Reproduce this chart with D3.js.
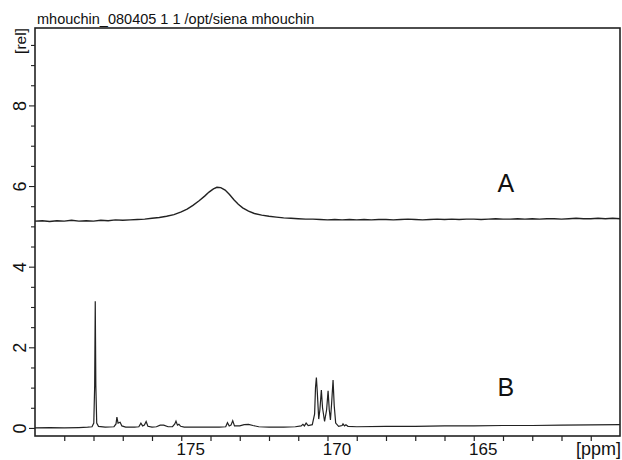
<!DOCTYPE html>
<html>
<head>
<meta charset="utf-8">
<script src="https://cdn.jsdelivr.net/npm/d3@7"></script>
<style>
  html, body { margin: 0; padding: 0; background: #fff; }
  svg { display: block; font-family: "Liberation Sans", Arial, sans-serif; }
</style>
</head>
<body>
<svg id="chart" width="622" height="460"></svg>
<script>
// ---- data ----
const titleText = "mhouchin_080405 1 1 /opt/siena mhouchin";
const xTickValues = [175, 170, 165];
const yTickValues = [0, 2, 4, 6, 8];
const seriesLabels = ["A", "B"];

// Spectrum A (broad line, offset upward)
const ppmA = [180.0, 179.75, 179.5, 179.25, 179.0, 178.75, 178.5, 178.25, 178.0, 177.75,
  177.5, 177.25, 177.0, 176.75, 176.5, 176.25, 176.0, 175.75, 175.5, 175.25,
  175.0, 174.8, 174.6, 174.4, 174.2, 174.05, 173.9, 173.78, 173.65, 173.5,
  173.35, 173.2, 173.05, 172.9, 172.7, 172.5, 172.25, 172.0, 171.75, 171.5,
  171.25, 171.0, 170.75, 170.5, 170.25, 170.0, 169.75, 169.5, 169.25, 169.0,
  168.75, 168.5, 168.25, 168.0, 167.75, 167.5, 167.25, 167.0, 166.75, 166.5,
  166.25, 166.0, 165.75, 165.5, 165.25, 165.0, 164.75, 164.5, 164.25, 164.0,
  163.75, 163.5, 163.25, 163.0, 162.75, 162.5, 162.25, 162.0, 161.75, 161.5,
  161.25, 161.0, 160.75, 160.5, 160.25, 160.0];
const relA = [5.13, 5.14, 5.12, 5.14, 5.13, 5.15, 5.13, 5.14, 5.13, 5.15,
  5.14, 5.16, 5.15, 5.16, 5.17, 5.18, 5.20, 5.22, 5.25, 5.29,
  5.36, 5.43, 5.52, 5.63, 5.75, 5.85, 5.93, 5.97, 5.96, 5.90,
  5.79, 5.66, 5.55, 5.46, 5.38, 5.32, 5.28, 5.25, 5.23, 5.21,
  5.20, 5.19, 5.18, 5.18, 5.17, 5.16, 5.17, 5.16, 5.17, 5.16,
  5.17, 5.16, 5.17, 5.17, 5.16, 5.17, 5.18, 5.17, 5.16, 5.17,
  5.18, 5.17, 5.18, 5.17, 5.18, 5.18, 5.17, 5.18, 5.19, 5.18,
  5.18, 5.19, 5.18, 5.19, 5.18, 5.19, 5.19, 5.18, 5.19, 5.20,
  5.19, 5.19, 5.20, 5.19, 5.20, 5.19];

// Spectrum B (resolved lines)
const ppmB = [180.0, 179.5, 179.0, 178.5, 178.2, 178.05, 177.99, 177.96, 177.94, 177.92,
  177.89, 177.83, 177.6, 177.30, 177.23, 177.20, 177.16, 177.09, 177.03, 176.9,
  176.6, 176.45, 176.38, 176.32, 176.26, 176.20, 176.14, 176.0, 175.85, 175.72,
  175.60, 175.45, 175.30, 175.22, 175.18, 175.13, 175.08, 175.02, 174.9, 174.5,
  174.0, 173.7, 173.48, 173.42, 173.36, 173.30, 173.24, 173.18, 173.0, 172.85,
  172.70, 172.55, 172.35, 172.0, 171.5, 171.1, 170.9, 170.84, 170.79, 170.73,
  170.66, 170.52, 170.44, 170.41, 170.38, 170.35, 170.30, 170.26, 170.21, 170.17,
  170.10, 170.03, 169.98, 169.94, 169.90, 169.86, 169.81, 169.77, 169.72, 169.62,
  169.50, 169.47, 169.42, 169.37, 169.30, 169.0, 168.0, 167.0, 166.0, 165.0,
  164.0, 163.0, 162.0, 161.0, 160.0];
const relB = [0.00, 0.01, 0.00, 0.01, 0.02, 0.03, 0.12, 1.05, 3.14, 1.05,
  0.12, 0.04, 0.02, 0.03, 0.10, 0.27, 0.12, 0.14, 0.05, 0.02,
  0.02, 0.03, 0.12, 0.05, 0.07, 0.16, 0.04, 0.02, 0.03, 0.07,
  0.07, 0.03, 0.03, 0.10, 0.17, 0.07, 0.09, 0.04, 0.02, 0.02,
  0.02, 0.02, 0.03, 0.13, 0.05, 0.07, 0.18, 0.05, 0.05, 0.08,
  0.09, 0.06, 0.03, 0.02, 0.02, 0.03, 0.05, 0.09, 0.05, 0.12,
  0.06, 0.08, 0.35, 1.00, 1.25, 0.90, 0.22, 0.45, 0.94, 0.50,
  0.16, 0.45, 0.92, 0.45, 0.20, 0.60, 1.19, 0.55, 0.12, 0.04,
  0.06, 0.10, 0.05, 0.08, 0.04, 0.03, 0.04, 0.04, 0.05, 0.05,
  0.06, 0.06, 0.07, 0.075, 0.08];

(function () {
  // ---- layout ----
  const svg = d3.select("#chart");
  const mLeft = 35, mRight = 620, mTop = 28, mBottom = 436;
  const ink = "#222";

  const x = d3.scaleLinear().domain([180, 160]).range([mLeft, mRight]);
  const y = d3.scaleLinear().domain([-0.2, 9.92]).range([mBottom, mTop]);

  // spectra
  const line = d3.line().x(d => x(d[0])).y(d => y(d[1]));
  const dataA = ppmA.map((p, i) => [p, relA[i]]);
  const dataB = ppmB.map((p, i) => [p, relB[i]]);

  const plot = svg.append("g");
  plot.append("path").datum(dataA).attr("d", line)
    .attr("fill", "none").attr("stroke", ink).attr("stroke-width", 1.4);
  plot.append("path").datum(dataB).attr("d", line)
    .attr("fill", "none").attr("stroke", ink).attr("stroke-width", 1.2);

  // frame
  svg.append("rect").attr("x", mLeft).attr("y", mTop)
    .attr("width", mRight - mLeft).attr("height", mBottom - mTop)
    .attr("fill", "none").attr("stroke", ink).attr("stroke-width", 1.6);

  // x axis: minor ticks every 1 ppm, labels at 175/170/165
  const xMinor = d3.range(179, 160, -1);
  const xAxis = d3.axisBottom(x).tickValues(xMinor).tickSize(5)
    .tickFormat(d => xTickValues.includes(d) ? String(d) : "");
  const gx = svg.append("g").attr("transform", `translate(0,${mBottom})`).call(xAxis);
  gx.select(".domain").remove();
  gx.selectAll(".tick line").attr("stroke", ink).attr("stroke-width", 1.2);
  gx.selectAll(".tick text").attr("fill", "#111").attr("font-size", 17)
    .attr("font-family", "Liberation Sans, Arial, sans-serif")
    .attr("x", 9).attr("y", 7).attr("dy", "0.71em");

  // y axis: minor ticks every 0.5, labels at 0..8 rotated
  const yMinor = d3.range(0, 10, 0.5);
  const yAxis = d3.axisLeft(y).tickValues(yMinor)
    .tickSize(4).tickFormat(d => yTickValues.includes(d) ? String(d) : "");
  const gy = svg.append("g").attr("transform", `translate(${mLeft},0)`).call(yAxis);
  gy.select(".domain").remove();
  gy.selectAll(".tick line").attr("stroke", ink).attr("stroke-width", 1.1)
    .attr("x2", d => yTickValues.includes(d) ? -6 : -4);
  gy.selectAll(".tick text")
    .attr("fill", "#111").attr("font-size", 18)
    .attr("font-family", "Liberation Sans, Arial, sans-serif")
    .attr("x", null).attr("dy", null)
    .attr("text-anchor", "middle")
    .attr("transform", "translate(-9,0) rotate(-90)")
    .attr("y", 0);

  // title and unit labels
  svg.append("text").attr("x", 37).attr("y", 23.5)
    .attr("font-size", 14.5).attr("fill", "#111").text(titleText);
  svg.append("text").attr("transform", "translate(26,41) rotate(-90)")
    .attr("text-anchor", "middle").attr("font-size", 15.5).attr("fill", "#111").text("[rel]");
  svg.append("text").attr("x", 621).attr("y", 455)
    .attr("text-anchor", "end").attr("font-size", 18).attr("fill", "#111").text("[ppm]");

  // series labels
  svg.append("text").attr("x", x(163.9)).attr("y", y(5.85))
    .attr("text-anchor", "middle").attr("font-size", 25).attr("fill", "#111").text(seriesLabels[0]);
  svg.append("text").attr("x", x(163.9)).attr("y", y(0.78))
    .attr("text-anchor", "middle").attr("font-size", 25).attr("fill", "#111").text(seriesLabels[1]);
})();
</script>
</body>
</html>
